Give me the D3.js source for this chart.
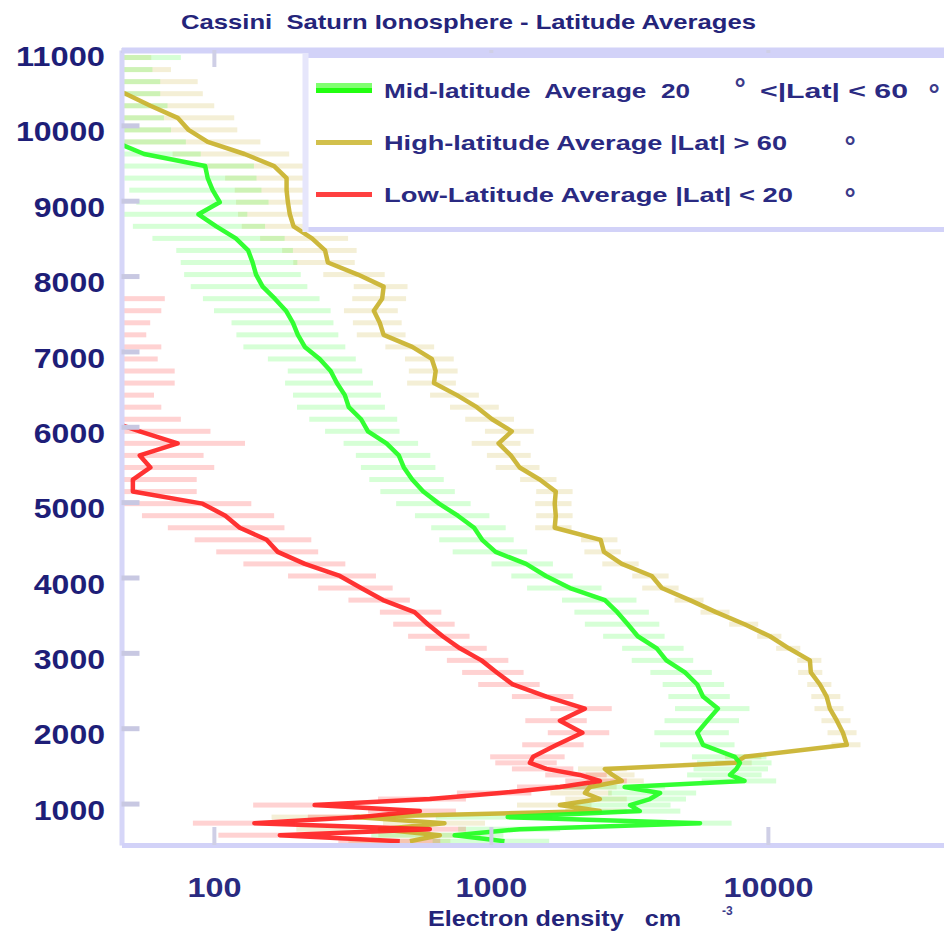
<!DOCTYPE html>
<html>
<head>
<meta charset="utf-8">
<script src="https://cdn.jsdelivr.net/npm/d3@7"></script>
<style>
  html, body { margin: 0; padding: 0; background: #fff; }
  svg { display: block; }
  text { font-family: "Liberation Sans", Arial, sans-serif; white-space: pre; }
</style>
</head>
<body>
<svg id="chart" width="944" height="934"></svg>
<script>
// Altitude levels of the averaged profiles (km)
const altitudeKm = [
  500, 580, 660, 740, 820, 900, 980, 1060, 1140, 1220, 1300, 1380, 1460, 1540, 1620,
  1780, 1940, 2100, 2260, 2420, 2580, 2740, 2900,
  3060, 3220, 3380, 3540, 3700, 3860, 4020, 4180, 4340, 4500, 4660, 4820, 4980,
  5140, 5300, 5460, 5620, 5780, 5940, 6100, 6260, 6420, 6580, 6740, 6900,
  7060, 7220, 7380, 7540, 7700, 7860, 8020, 8180, 8340, 8500, 8660, 8820, 8980,
  9140, 9300, 9460, 9620, 9780, 9940, 10100, 10260, 10420, 10580, 10740, 10900
];

// Mean electron density (cm^-3), 20° < |Lat| < 60°
const midLatDensity = [
  1120, 740, 1270, 5690, 1150, 3450, 3180, 3750, 4080, 3040, 8240, 7300, 7700, 7930, 7600,
  5830, 5560, 6050, 6600, 5830, 5560, 5020, 4300,
  3970, 3390, 3120, 2860, 2580, 1930, 1580, 1340, 1040, 930, 870, 760, 650,
  570, 520, 485, 465, 420, 360, 340, 307, 297, 278, 264, 241,
  213, 201, 193, 182, 166, 150, 142, 138, 133, 120, 102, 88, 105,
  99, 95, 93, 56, 44, 35, 33, 34, 32, 32, 30, 38
];

// Mean electron density (cm^-3), |Lat| > 60°
const highLatDensity = [
  510, 654, 397, 680, 323, 2475, 1775, 2475, 2185, 2276, 2970, 2750, 2580, 7600, 8240,
  19280, 18660, 17740, 16740, 16300, 15410, 14290, 14180,
  11900, 10170, 8240, 6490, 5230, 4140, 3810, 2970, 2560, 2490, 1700, 1715, 1700,
  1715, 1500, 1270, 1180, 1066, 1190, 1010, 890, 754, 623, 632, 612,
  520, 410, 397, 378, 405, 410, 331, 258, 252, 226, 194, 188, 185,
  183, 183, 165, 129, 95, 81, 74, 59, 48, 38, 35, 33
];

// Mean electron density (cm^-3), |Lat| < 20°
const lowLatDensity = [
  469, 173, 602, 140, 336, 554, 231, 602, 1077, 1775, 2475, 2095, 1588, 1383, 1420,
  1730, 2140, 1775, 2185, 1588, 1200, 1050, 925,
  773, 670, 592, 530, 408, 340, 285, 213, 170, 155, 124, 110, 91,
  51, 51, 59, 54, 74, 54, 40, 34, 32, 38, 38, 33,
  34, 30, 31, 34, 35, null, null, null, null, null, null, null, null,
  null, null, null, null, null, null, null, null, null, null, null, null
];

// Standard deviation of each average, as a fraction of the mean
const midLatSpread = [
  0.45, 0.5, 0.4, 0.3, 0.45, 0.4, 0.4, 0.35, 0.35, 0.4, 0.3, 0.3, 0.3, 0.3, 0.3,
  0.3, 0.3, 0.3, 0.3, 0.25, 0.25, 0.25, 0.25,
  0.25, 0.25, 0.3, 0.3, 0.3, 0.3, 0.25, 0.25, 0.3, 0.3, 0.3, 0.3, 0.3,
  0.3, 0.3, 0.3, 0.3, 0.3, 0.3, 0.35, 0.35, 0.35, 0.35, 0.3, 0.35,
  0.4, 0.4, 0.4, 0.45, 0.45, 0.45, 0.45, 0.45, 0.45, 0.5, 0.5, 0.5, 0.5,
  0.5, 0.5, 0.5, 0.6, 0.8, 1.0, 1.0, 1.0, 1.0, 1.0, 1.0, 1.0
];
const highLatSpread = [
  0.4, 0.4, 0.5, 0.4, 0.5, 0.25, 0.3, 0.25, 0.25, 0.25, 0.2, 0.2, 0.2, 0.15, 0.15,
  0.12, 0.12, 0.12, 0.12, 0.12, 0.1, 0.1, 0.1,
  0.1, 0.1, 0.12, 0.12, 0.12, 0.15, 0.15, 0.15, 0.15, 0.15, 0.15, 0.15, 0.15,
  0.15, 0.15, 0.18, 0.18, 0.2, 0.2, 0.2, 0.2, 0.2, 0.2, 0.2, 0.2,
  0.2, 0.2, 0.2, 0.22, 0.22, 0.22, 0.25, 0.25, 0.3, 0.35, 0.35, 0.35, 0.35,
  0.35, 0.4, 0.45, 0.45, 0.55, 0.5, 0.6, 0.7, 0.9, 1.3, 1.0, 0.8
];
const lowLatSpread = [
  0.4, 0.4, 0.35, 0.4, 0.35, 0.35, 0.4, 0.35, 0.3, 0.3, 0.25, 0.25, 0.25, 0.25, 0.3,
  0.25, 0.25, 0.25, 0.25, 0.25, 0.25, 0.25, 0.25,
  0.25, 0.25, 0.25, 0.25, 0.25, 0.3, 0.35, 0.4, 0.4, 0.45, 0.45, 0.5, 0.5,
  0.7, 0.7, 0.7, 0.7, 0.75, 0.8, 0.9, 0.9, 0.9, 0.9, 0.9, 0.9,
  0.9, 0.9, 0.9, 0.9, 0.9, null, null, null, null, null, null, null, null,
  null, null, null, null, null, null, null, null, null, null, null, null
];

const altitudeTicks = [1000, 2000, 3000, 4000, 5000, 6000, 7000, 8000, 9000, 10000, 11000];
const densityTicks = [100, 1000, 10000];

const titleText = "Cassini  Saturn Ionosphere - Latitude Averages";
const xTitleText = "Electron density   cm";
const xTitleExponent = "-3";
const legendLabels = [
  "Mid-latitude  Average  20",
  "High-latitude Average |Lat| > 60",
  "Low-Latitude Average |Lat| < 20"
];

// ---------------------------------------------------------------------------
const svg = d3.select("#chart");
const navy = "#1e1e78";
const plot = { left: 121.5, right: 961.5, top: 50, bottom: 845 };

const x = d3.scaleLog().domain([46.4, 50000]).range([plot.left, plot.right]);
const y = d3.scaleLinear().domain([450, 11000]).range([plot.bottom, plot.top]);

const series = [
  { key: "high", values: highLatDensity, spread: highLatSpread, line: "#c9b22c", bar: "#c8b030", legend: "#d2c04c" },
  { key: "mid",  values: midLatDensity,  spread: midLatSpread,  line: "#22ff22", bar: "#33ff33", legend: "#22ff10" },
  { key: "low",  values: lowLatDensity,  spread: lowLatSpread,  line: "#ff2222", bar: "#ff2020", legend: "#ff4040" }
];

svg.append("defs").append("clipPath").attr("id", "plotClip")
  .append("rect")
  .attr("x", plot.left + 2).attr("y", plot.top + 3)
  .attr("width", plot.right - plot.left).attr("height", plot.bottom - plot.top - 5);

const data = svg.append("g").attr("clip-path", "url(#plotClip)");

// Standard-deviation bars (mean ± σ, lower end clipped to the axis)
const barLayer = data.append("g");
series.forEach(s => {
  const rows = altitudeKm.map((alt, i) => ({ alt, v: s.values[i], sd: s.spread[i] }))
    .filter(d => d.v != null);
  const lowEdge = d => {
    const lo = d.v * (1 - d.sd);
    return lo > 0 ? x(lo) : plot.left - 10;
  };
  barLayer.append("g").selectAll("rect").data(rows).join("rect")
    .attr("x", lowEdge)
    .attr("width", d => x(d.v * (1 + d.sd)) - lowEdge(d))
    .attr("y", d => y(d.alt) - 2.5)
    .attr("height", 5)
    .attr("fill", s.bar)
    .attr("fill-opacity", 0.2);
});

// Mean profiles
const lineGen = d3.line()
  .defined(d => d.v != null)
  .x(d => x(d.v))
  .y(d => y(d.alt));
series.forEach(s => {
  const rows = altitudeKm.map((alt, i) => ({ alt, v: s.values[i] }));
  data.append("path")
    .datum(rows)
    .attr("d", lineGen)
    .attr("fill", "none")
    .attr("stroke", s.line)
    .attr("stroke-width", 4.5)
    .attr("stroke-linejoin", "round")
    .attr("stroke-opacity", 0.92);
});

// Axes
const yAxis = svg.append("g")
  .attr("transform", `translate(${plot.left},0)`)
  .call(d3.axisLeft(y).tickValues(altitudeTicks).tickSize(-18).tickSizeOuter(0).tickPadding(16.5)
    .tickFormat(d => String(d)));
yAxis.select(".domain").attr("stroke", "#d6d6f8").attr("stroke-width", 5);
yAxis.selectAll(".tick line").attr("stroke", "#c8c8e2").attr("stroke-width", 5);
yAxis.selectAll(".tick text")
  .attr("dy", "0.32em").attr("y", 7)
  .attr("fill", navy).attr("font-size", 27).attr("font-weight", "bold")
  .attr("textLength", d => String(d).length * 17.8)
  .attr("lengthAdjust", "spacingAndGlyphs");

const xAxis = svg.append("g")
  .attr("transform", `translate(0,${plot.bottom})`)
  .call(d3.axisBottom(x).tickValues(densityTicks).tickSize(-18).tickSizeOuter(0)
    .tickFormat(d => String(d)));
xAxis.select(".domain").attr("stroke", "#d2d2f8").attr("stroke-width", 5);
xAxis.selectAll(".tick line").attr("stroke", "#cfcfe6").attr("stroke-width", 4);
xAxis.selectAll(".tick text")
  .attr("y", 52).attr("dy", 0)
  .attr("fill", "#2a2a80").attr("font-size", 28).attr("font-weight", "bold")
  .attr("textLength", d => String(d).length * 18)
  .attr("lengthAdjust", "spacingAndGlyphs");

const topAxis = svg.append("g")
  .attr("transform", `translate(0,${plot.top})`)
  .call(d3.axisTop(x).tickValues(densityTicks).tickSize(-17).tickSizeOuter(0).tickFormat(""));
topAxis.select(".domain").attr("stroke", "#d2d2f8").attr("stroke-width", 6);
topAxis.selectAll(".tick line").attr("stroke", "#cfcfe6").attr("stroke-width", 4);

// Legend
const legend = svg.append("g");
legend.append("rect")
  .attr("x", 305).attr("y", 55.5).attr("width", 660).attr("height", 174)
  .attr("fill", "#fff");
legend.append("line").attr("x1", 303).attr("x2", 944).attr("y1", 55.5).attr("y2", 55.5)
  .attr("stroke", "#d2d2f8").attr("stroke-width", 5);
legend.append("line").attr("x1", 303).attr("x2", 944).attr("y1", 229.5).attr("y2", 229.5)
  .attr("stroke", "#d2d2f8").attr("stroke-width", 5);
legend.append("line").attr("x1", 305.5).attr("x2", 305.5).attr("y1", 53).attr("y2", 232)
  .attr("stroke", "#e6e6fb").attr("stroke-width", 6);

const legendRows = [
  { label: legendLabels[0], s: series[1], y: 98, width: 306, deg: [[740, 98]] },
  { label: legendLabels[1], s: series[0], y: 150, width: 403, deg: [[850, 156]] },
  { label: legendLabels[2], s: series[2], y: 202, width: 409, deg: [[850, 208]] }
];
legendRows.forEach((r, i) => {
  if (i === 0) {
    legend.append("rect").attr("x", 316).attr("y", 83).attr("width", 56).attr("height", 5).attr("fill", "#80ff70");
    legend.append("rect").attr("x", 316).attr("y", 88).attr("width", 56).attr("height", 5).attr("fill", r.s.legend);
  } else {
    legend.append("line").attr("x1", 316).attr("x2", 372).attr("y1", r.y - 7.5).attr("y2", r.y - 7.5)
      .attr("stroke", r.s.legend).attr("stroke-width", 5);
  }
  legend.append("text")
    .attr("x", 384).attr("y", r.y)
    .attr("fill", "#2a2a82").attr("font-size", 20).attr("font-weight", "bold")
    .attr("textLength", r.width).attr("lengthAdjust", "spacingAndGlyphs")
    .text(r.label);
  r.deg.forEach(([dx, dy]) => {
    legend.append("text").attr("x", dx).attr("y", dy).attr("text-anchor", "middle")
      .attr("fill", "#3a3a8a").attr("font-size", 28).attr("font-weight", "bold").text("°");
  });
});
legend.append("text")
  .attr("x", 760).attr("y", 98)
  .attr("fill", "#2a2a82").attr("font-size", 20).attr("font-weight", "bold")
  .attr("textLength", 148).attr("lengthAdjust", "spacingAndGlyphs")
  .text("<|Lat| < 60");
legend.append("text").attr("x", 934).attr("y", 104).attr("text-anchor", "middle")
  .attr("fill", "#3a3a8a").attr("font-size", 28).attr("font-weight", "bold").text("°");

// Titles
svg.append("text")
  .attr("x", 181).attr("y", 29)
  .attr("fill", "#24247a").attr("font-size", 21).attr("font-weight", "bold")
  .attr("textLength", 575).attr("lengthAdjust", "spacingAndGlyphs")
  .text(titleText);

svg.append("text")
  .attr("x", 428).attr("y", 926)
  .attr("fill", "#24247a").attr("font-size", 22).attr("font-weight", "bold")
  .attr("textLength", 253).attr("lengthAdjust", "spacingAndGlyphs")
  .text(xTitleText);
svg.append("text")
  .attr("x", 722).attr("y", 915)
  .attr("fill", "#3a3a8a").attr("font-size", 12).attr("font-weight", "bold")
  .text(xTitleExponent);
</script>
</body>
</html>
